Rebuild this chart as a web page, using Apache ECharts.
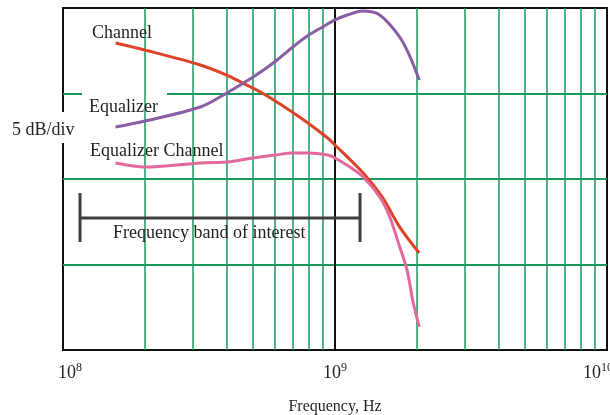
<!DOCTYPE html>
<html>
<head>
<meta charset="utf-8">
<script src="https://cdn.jsdelivr.net/npm/echarts@6/dist/echarts.min.js"></script>
<style>
  html, body { margin: 0; padding: 0; background: #fff; }
  #chart { width: 610px; height: 415px; }
</style>
</head>
<body>
<div id="chart"></div>
<script>
// Frequency (Hz) and response (dB, 5 dB per division) for each curve
const channelFreq = [1.56e8, 2e8, 3.2e8, 4e8, 4.5e8, 5.4e8, 7.4e8, 9.4e8, 1e9, 1.27e9, 1.49e9, 1.73e9, 2.04e9];
const channelDb   = [17.95, 17.54, 16.67, 16.08, 15.67, 15.03, 13.63, 12.40, 11.99, 10.35, 8.95, 7.19, 5.67];

const equalizerFreq = [1.56e8, 2e8, 3.2e8, 4e8, 5e8, 6e8, 7e8, 8e8, 9e8, 1e9, 1.11e9, 1.26e9, 1.46e9, 1.73e9, 1.89e9, 2.04e9];
const equalizerDb   = [13.04, 13.39, 14.21, 15.03, 15.96, 16.84, 17.72, 18.42, 18.89, 19.30, 19.59, 19.82, 19.59, 18.30, 17.13, 15.79];

const eqChannelFreq = [1.56e8, 2e8, 3.2e8, 4e8, 5e8, 6e8, 7e8, 8e8, 9.4e8, 1e9, 1.135e9, 1.27e9, 1.46e9, 1.59e9, 1.73e9, 1.84e9, 1.94e9, 2.04e9];
const eqChannelDb   = [10.94, 10.70, 10.94, 10.99, 11.23, 11.40, 11.52, 11.52, 11.40, 11.23, 10.70, 10.12, 8.95, 7.78, 6.02, 4.68, 2.75, 1.35];

// Frequency band of interest (bracket)
const bandLow = 1.155e8;
const bandHigh = 1.236e9;
const bandLevel = 7.72;
const bandTop = 9.18;
const bandBottom = 6.32;

// Axis ranges and log-decade gridlines
const freqMin = 1e8;
const freqMax = 1e10;
const decadeTicks = [1e8, 1e9, 1e10];
const minorFreqs = [2e8, 3e8, 4e8, 5e8, 6e8, 7e8, 8e8, 9e8, 2e9, 3e9, 4e9, 5e9, 6e9, 7e9, 8e9, 9e9];
const dbMin = 0, dbMax = 20, dbStep = 5;

const GREEN = '#17985c';
const INK = '#231f20';
const SERIF = '"Liberation Serif", "DejaVu Serif", serif';

const zip = (xs, ys) => xs.map((x, i) => [x, ys[i]]);

const chart = echarts.init(document.getElementById('chart'), null, { renderer: 'canvas' });

// White label plates that interrupt the gridlines behind the annotations
function box(x, y, w, h) {
  return { type: 'rect', z: 5, silent: true, shape: { x, y, width: w, height: h }, style: { fill: '#fff' } };
}
function label(text, x, y) {
  return { type: 'text', z: 6, silent: true, x, y,
    style: { text, font: '18px ' + SERIF, fill: INK, textAlign: 'left', textVerticalAlign: 'middle' } };
}

chart.setOption({
  animation: false,
  backgroundColor: '#fff',
  grid: {
    left: 63, right: 3, top: 8, bottom: 65,
    outerBoundsMode: 'none', containLabel: false,
    show: true, borderColor: '#111', borderWidth: 2, backgroundColor: 'transparent'
  },
  xAxis: {
    type: 'log', logBase: 10, min: freqMin, max: freqMax,
    axisLine: { show: false }, axisTick: { show: false }, splitLine: { show: false },
    name: 'Frequency, Hz', nameLocation: 'middle', nameGap: 49,
    nameTextStyle: { fontFamily: SERIF, fontSize: 16, color: INK },
    axisLabel: {
      margin: 12,
      hideOverlap: false,
      formatter: function (v) {
        const e = Math.round(Math.log10(v));
        if (decadeTicks.indexOf(Math.pow(10, e)) < 0) return '';
        const lead = e === 8 ? '{pad|}' : '';
        const tail = e === 10 ? '{tail|}' : '';
        return lead + '{b|10}{s|' + e + '}' + tail;
      },
      rich: {
        b: { fontFamily: SERIF, fontSize: 18, color: INK },
        s: { fontFamily: SERIF, fontSize: 12, color: INK, padding: [0, 0, 10, 0] },
        pad: { width: 14 },
        tail: { width: 18 }
      }
    }
  },
  yAxis: {
    type: 'value', min: dbMin, max: dbMax, interval: dbStep,
    axisLine: { show: false }, axisTick: { show: false }, axisLabel: { show: false },
    splitLine: { show: true, showMinLine: false, showMaxLine: false, lineStyle: { color: GREEN, width: 2 } }
  },
  graphic: [
    box(84, 17, 76, 30), label('Channel', 92, 33),
    box(82, 91, 85, 31), label('Equalizer', 89, 107),
    box(6, 112, 72, 31), label('5 dB/div', 12, 130),
    box(84, 135, 160, 32), label('Equalizer Channel', 90, 151),
    box(82, 219, 276, 29), label('Frequency band of interest', 113, 233)
  ],
  series: [
    {
      name: 'gridlines', type: 'line', z: 1, silent: true, symbol: 'none',
      data: [[freqMin, dbMin]],
      markLine: {
        silent: true, symbol: ['none', 'none'], label: { show: false },
        lineStyle: { color: GREEN, width: 1.5, type: 'solid' },
        data: minorFreqs.map(f => ({ xAxis: f }))
          .concat([{ xAxis: 1e9, lineStyle: { color: '#111', width: 2, type: 'solid' } }])
      }
    },
    { name: 'Channel', type: 'line', z: 10, symbol: 'none', smooth: 0.3,
      data: zip(channelFreq, channelDb), lineStyle: { color: '#de4229', width: 3 } },
    { name: 'Equalizer', type: 'line', z: 10, symbol: 'none', smooth: 0.3,
      data: zip(equalizerFreq, equalizerDb), lineStyle: { color: '#8a5ea2', width: 3 } },
    { name: 'Equalizer Channel', type: 'line', z: 10, symbol: 'none', smooth: 0.3,
      data: zip(eqChannelFreq, eqChannelDb), lineStyle: { color: '#e2699c', width: 3 } },
    { name: 'band-left', type: 'line', z: 10, symbol: 'none',
      data: [[bandLow, bandTop], [bandLow, bandBottom]], lineStyle: { color: '#433d3f', width: 3 } },
    { name: 'band', type: 'line', z: 10, symbol: 'none',
      data: [[bandLow, bandLevel], [bandHigh, bandLevel]], lineStyle: { color: '#433d3f', width: 3 } },
    { name: 'band-right', type: 'line', z: 10, symbol: 'none',
      data: [[bandHigh, bandTop], [bandHigh, bandBottom]], lineStyle: { color: '#433d3f', width: 3 } }
  ]
});
</script>
</body>
</html>
